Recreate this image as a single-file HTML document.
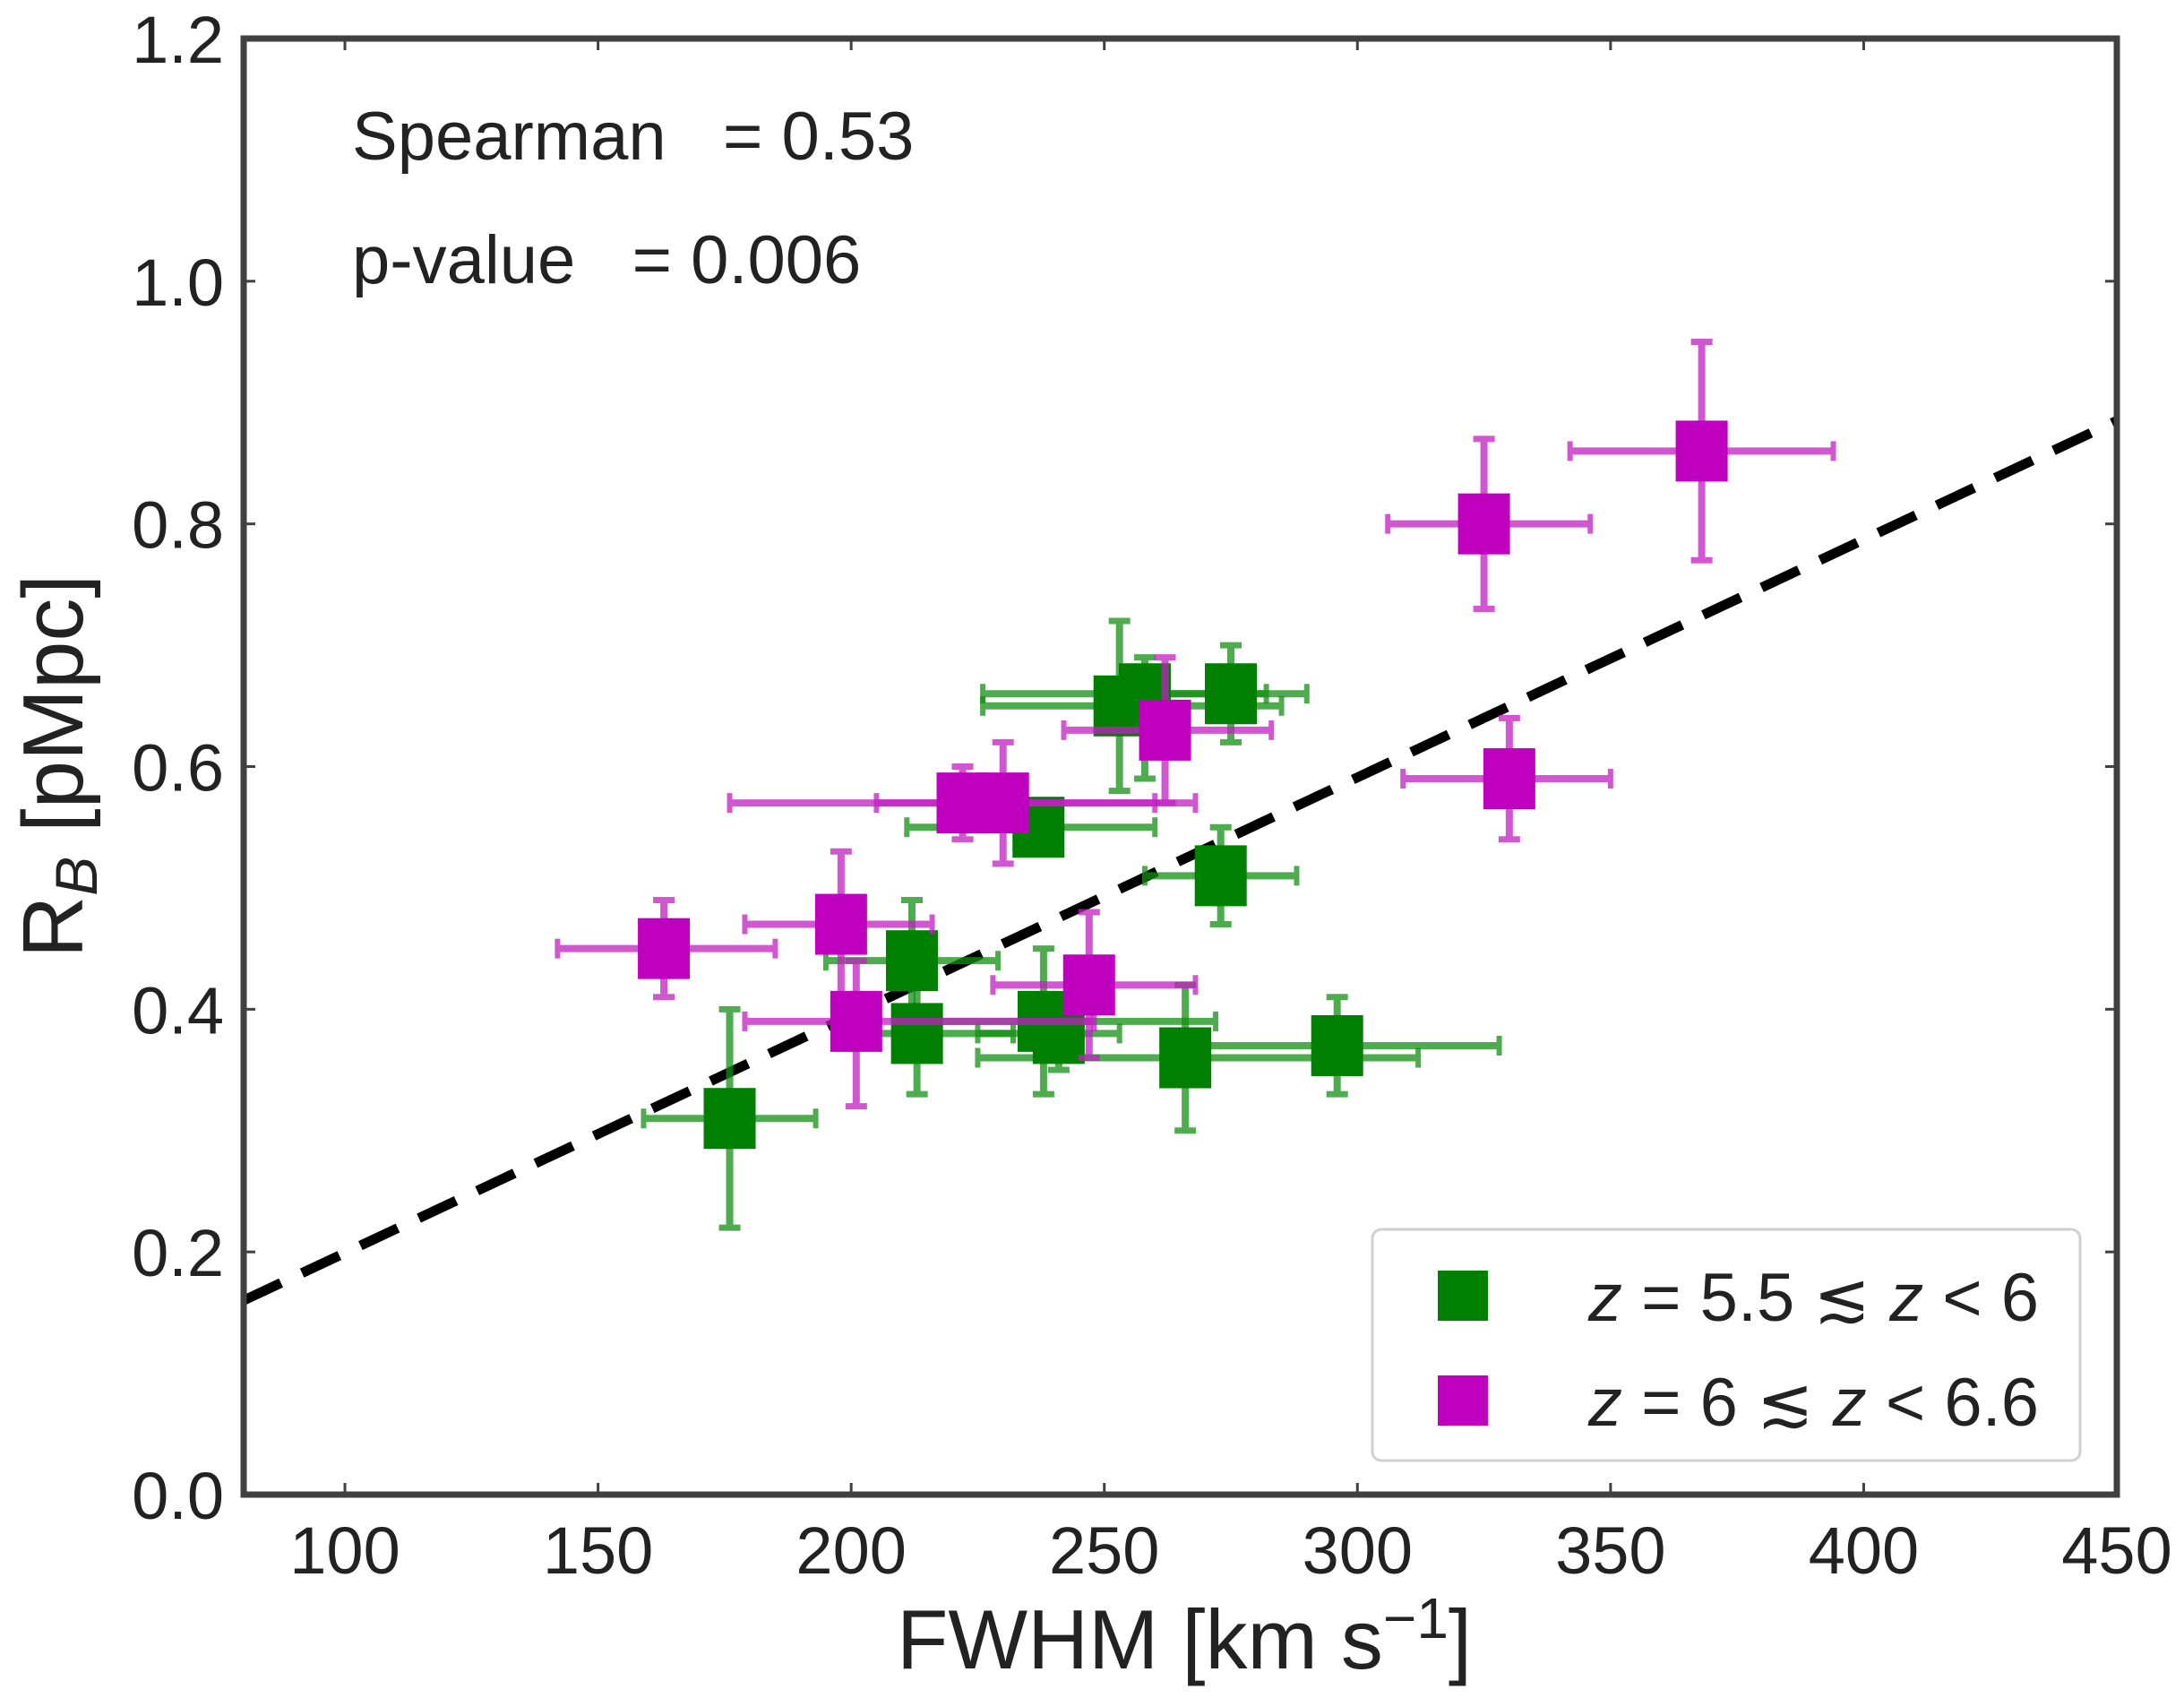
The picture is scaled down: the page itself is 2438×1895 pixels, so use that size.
<!DOCTYPE html>
<html><head><meta charset="utf-8"><style>
html,body{margin:0;padding:0;background:#fff;}
svg{display:block;font-family:"Liberation Sans","DejaVu Sans",sans-serif;}
</style></head><body>
<svg id="chart" width="2438" height="1895" viewBox="0 0 2438 1895" xmlns="http://www.w3.org/2000/svg">
<rect x="0" y="0" width="2438" height="1895" fill="#fff"/>
<g id="marks"></g>
<g id="axes"></g>
<text x="393" y="178" font-size="76" fill="#222" xml:space="preserve">Spearman   = 0.53</text>
<text x="393" y="316" font-size="76" fill="#222" xml:space="preserve">p-value   = 0.006</text>
<text x="1322" y="1862" font-size="94" fill="#222" text-anchor="middle">FWHM [km s<tspan dy="-34" font-size="64">−1</tspan><tspan dy="34">]</tspan></text>
<text transform="translate(92,855) rotate(-90)" font-size="96" fill="#222" text-anchor="middle">R<tspan dy="16" font-size="66" font-style="italic">B</tspan><tspan dy="-16"> [pMpc]</tspan></text>
<g>
<rect x="1532" y="1372" width="790" height="258" rx="10" fill="#fff" stroke="#d0d0d0" stroke-width="3"/>
<rect x="1605" y="1418" width="56" height="56" fill="#008000"/>
<text x="1773" y="1474" font-size="76" fill="#222"><tspan font-style="italic">z</tspan> = 5.5 ≲ <tspan font-style="italic">z</tspan> &lt; 6</text>
<rect x="1605" y="1535" width="56" height="56" fill="#bf00bf"/>
<text x="1773" y="1591" font-size="76" fill="#222"><tspan font-style="italic">z</tspan> = 6 ≲ <tspan font-style="italic">z</tspan> &lt; 6.6</text>
</g>
</svg>
<script>
// Green series (5.5 <= z < 6)
const greenX    = [176, 212, 213, 238, 241, 266, 296, 273, 237, 253, 258, 275];
const greenY    = [0.31, 0.44, 0.38, 0.39, 0.38, 0.36, 0.37, 0.51, 0.55, 0.65, 0.66, 0.66];
const greenXLo  = [159, 195, 205, 215, 225, 225, 266, 258, 211, 226, 226, 257];
const greenXHi  = [193, 229, 232, 272, 253, 312, 328, 288, 260, 285, 282, 290];
const greenYLo  = [0.22, 0.39, 0.33, 0.33, 0.35, 0.30, 0.33, 0.47, 0.54, 0.58, 0.59, 0.62];
const greenYHi  = [0.40, 0.49, 0.42, 0.45, 0.41, 0.42, 0.41, 0.55, 0.57, 0.72, 0.69, 0.70];
// Magenta series (6 <= z < 6.6)
const magX      = [163, 198, 201, 222, 230, 247, 262, 325, 330, 368];
const magY      = [0.45, 0.47, 0.39, 0.57, 0.57, 0.42, 0.63, 0.80, 0.59, 0.86];
const magXLo    = [142, 179, 179, 176, 205, 228, 242, 306, 309, 342];
const magXHi    = [185, 216, 248, 260, 268, 268, 283, 346, 350, 394];
const magYLo    = [0.41, 0.40, 0.32, 0.54, 0.52, 0.36, 0.57, 0.73, 0.54, 0.77];
const magYHi    = [0.49, 0.53, 0.44, 0.60, 0.62, 0.48, 0.69, 0.87, 0.64, 0.95];
// Fit line endpoints
const fitX      = [80, 450];
const fitY      = [0.16, 0.885];
// Ticks
const xTicks    = [100, 150, 200, 250, 300, 350, 400, 450];
const yTicks    = [0.0, 0.2, 0.4, 0.6, 0.8, 1.0, 1.2];
const yTickLabels = ["0.0","0.2","0.4","0.6","0.8","1.0","1.2"];

const L=272, R=2363, T=43, B=1668;
const xMin=80, xMax=450, yMin=0, yMax=1.2;
function sx(v){return L+(v-xMin)/(xMax-xMin)*(R-L);}
function sy(v){return B-(v-yMin)/(yMax-yMin)*(B-T);}
const NS="http://www.w3.org/2000/svg";
const marks=document.getElementById('marks');
const axes=document.getElementById('axes');
function mk(tag,attrs,parent){const e=document.createElementNS(NS,tag);for(const k in attrs)e.setAttribute(k,attrs[k]);parent.appendChild(e);return e;}

const fit=mk('line',{x1:sx(fitX[0]),y1:sy(fitY[0]),x2:sx(fitX[1]),y2:sy(fitY[1]),stroke:'#000','stroke-width':11,'stroke-dasharray':'46 26'},marks);



function series(xs,ys,xlo,xhi,ylo,yhi,col,ecol,name){
  const g=mk('g',{},marks);
  
  
  for(let i=0;i<xs.length;i++){
    const eg=mk('g',{stroke:ecol,'stroke-width':8,opacity:0.75},g);
    
    
    const cx=sx(xs[i]), cy=sy(ys[i]);
    mk('line',{x1:sx(xlo[i]),y1:cy,x2:sx(xhi[i]),y2:cy},eg);
    mk('line',{x1:cx,y1:sy(ylo[i]),x2:cx,y2:sy(yhi[i])},eg);
    mk('line',{x1:sx(xlo[i]),y1:cy-11,x2:sx(xlo[i]),y2:cy+11,'stroke-width':6},eg);
    mk('line',{x1:sx(xhi[i]),y1:cy-11,x2:sx(xhi[i]),y2:cy+11,'stroke-width':6},eg);
    mk('line',{x1:cx-12,y1:sy(ylo[i]),x2:cx+12,y2:sy(ylo[i]),'stroke-width':7},eg);
    mk('line',{x1:cx-12,y1:sy(yhi[i]),x2:cx+12,y2:sy(yhi[i]),'stroke-width':7},eg);
  }
  for(let i=0;i<xs.length;i++){
    const r=mk('rect',{x:sx(xs[i])-29,y:sy(ys[i])-34,width:58,height:68,fill:col},g);
    
    
  }
}
series(greenX,greenY,greenXLo,greenXHi,greenYLo,greenYHi,'#008000','#138f13','green');
series(magX,magY,magXLo,magXHi,magYLo,magYHi,'#bf00bf','#c21fc2','magenta');

const fr=mk('rect',{x:L,y:T,width:R-L,height:B-T,fill:'none',stroke:'#404040','stroke-width':7},axes);


xTicks.forEach(v=>{
  const x=sx(v);
  mk('line',{x1:x,y1:B,x2:x,y2:B-13,stroke:'#404040','stroke-width':3},axes);
  mk('line',{x1:x,y1:T,x2:x,y2:T+13,stroke:'#404040','stroke-width':3},axes);
  const t=mk('text',{x:x,y:B+88,'font-size':74,'text-anchor':'middle',fill:'#222'},axes);
  t.textContent=String(v);
  
  
});
yTicks.forEach((v,i)=>{
  const y=sy(v);
  mk('line',{x1:L,y1:y,x2:L+13,y2:y,stroke:'#404040','stroke-width':3},axes);
  mk('line',{x1:R,y1:y,x2:R-13,y2:y,stroke:'#404040','stroke-width':3},axes);
  const t=mk('text',{x:L-22,y:y+27,'font-size':74,'text-anchor':'end',fill:'#222'},axes);
  t.textContent=yTickLabels[i];
  
  
});
</script>
</body></html>
